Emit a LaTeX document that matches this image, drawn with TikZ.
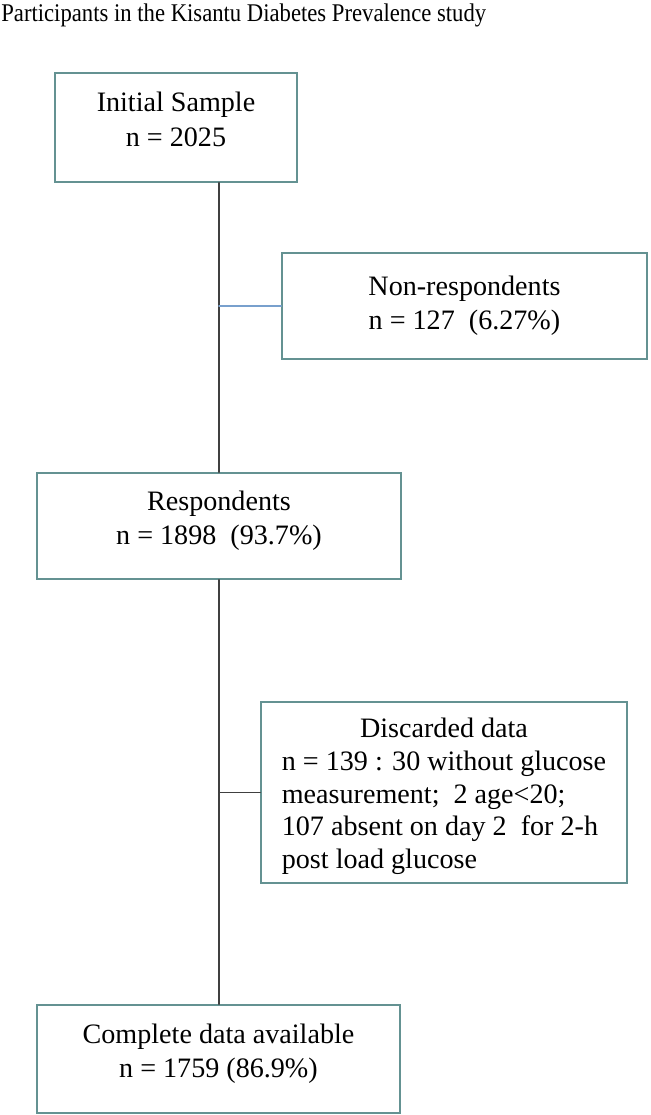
\documentclass[tikz,border=0pt]{standalone}
\usepackage{fontspec}
\setmainfont{Liberation Serif}
\newfontfamily\titlefont{Liberation Serif}[FakeStretch=0.89]
\usepackage{tikz}

\newcommand{\lift}{\rule[-9.5pt]{0pt}{9.5pt}}

\begin{document}
\begin{tikzpicture}
		[x=0.02cm,y=-0.02cm,line cap=round,
		%Styles
		stage/.style={draw=boxcolor,line width=1.1pt,align=center,inner sep=0pt,font=\fontsize{16}{19.5}\selectfont},
		trunk line/.style={draw=trunkcolor,line width=1.1pt},
		side line/.style={draw=branchcolor,line width=1.1pt},
		title text/.style={anchor=base west,inner sep=0pt,font=\titlefont\fontsize{14.5}{17}\selectfont}
		]
		
		%Colors
		\definecolor{boxcolor}{RGB}{100,146,146}	%box frames
		\definecolor{trunkcolor}{RGB}{64,64,64}		%main flow line
		\definecolor{branchcolor}{RGB}{120,160,205}	%non-respondents branch
		
		\useasboundingbox (0,0) rectangle (650,1115);
		
		%The graphic
		\node[title text] (title) at (1,22) {Participants in the Kisantu Diabetes Prevalence study};
		
		\node[stage,minimum width=4.84cm,minimum height=2.18cm] (init) at (176,127.5) {Initial Sample\\n = 2025\lift};
		\node[stage,minimum width=7.3cm,minimum height=2.12cm] (nonresp) at (464.5,306) {Non-respondents\\n = 127\ \ (6.27\%)};
		\node[stage,minimum width=7.28cm,minimum height=2.12cm] (resp) at (219,526) {Respondents\\n = 1898\ \ (93.7\%)\lift};
		\node[stage,font=\fontsize{16}{18.7}\selectfont,minimum width=7.32cm,minimum height=3.62cm] (drop) at (444,792.5)
			{\begin{tabular}{@{}l@{}}
				\multicolumn{1}{@{}c@{}}{\rule{0pt}{17.6pt}Discarded data}\\
				n = 139 : 30 without glucose\\
				measurement;\ \ 2 age<20;\\
				107 absent on day 2\ \ for 2-h\\
				post load glucose
			\end{tabular}};
		\node[stage,minimum width=7.26cm,minimum height=2.16cm] (done) at (218.5,1059) {Complete data available\\n = 1759 (86.9\%)\lift};
		
		\coordinate (nonresp split) at (resp.north |- nonresp.west);
		\coordinate (drop split) at (resp.south |- drop.west);
		
		\draw[trunk line] (resp.north |- init.south) -- (resp.north);
		\draw[trunk line] (resp.south) -- (resp.south |- done.north);
		\draw[side line] (nonresp split) -- (nonresp.west);
		\draw[trunk line] (drop split) -- (drop.west);
	\end{tikzpicture}
\end{document}
